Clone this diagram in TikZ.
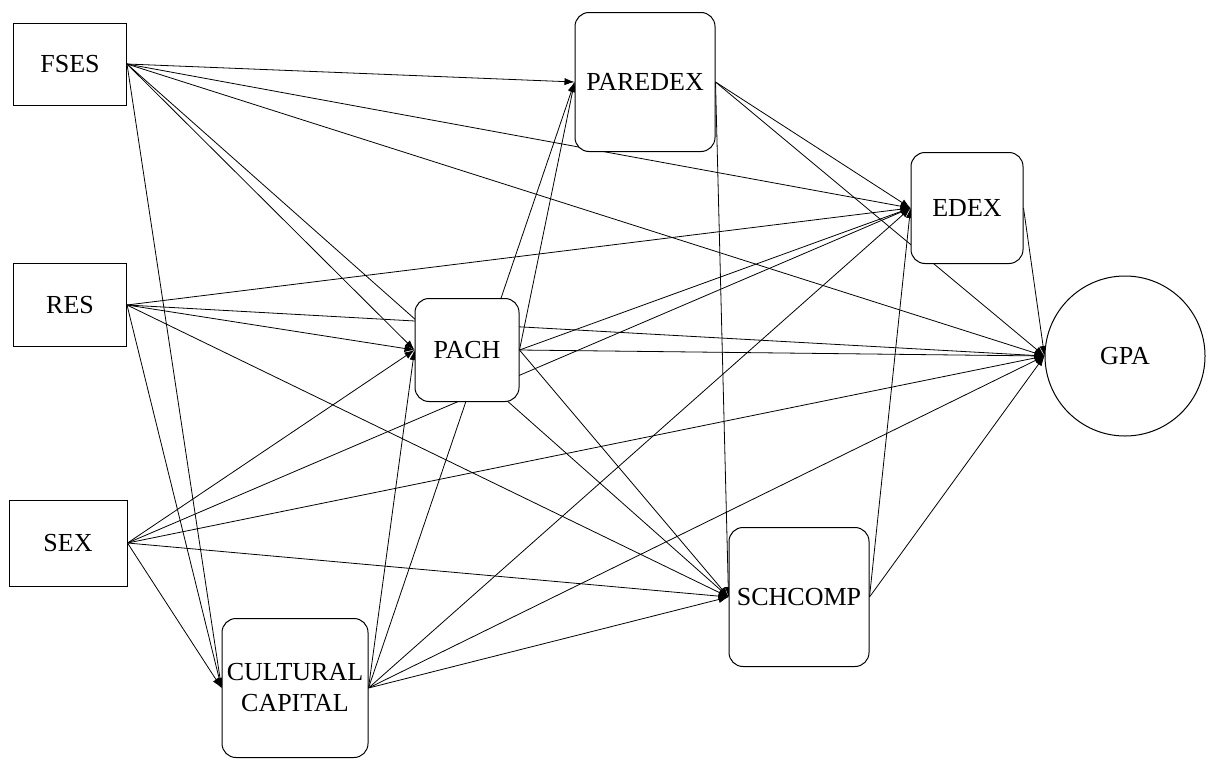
\documentclass[tikz,border=0pt]{standalone}
\usepackage{fontspec}
\setmainfont{Liberation Serif}
\usepackage{tikz}
\usetikzlibrary{arrows.meta,backgrounds}

\tikzset{
    var/.style={draw, fill=white, line width=0.5pt, inner sep=0pt, font=\fontsize{13}{15.5}\selectfont},
    fac/.style={var, rounded corners=7pt, align=center},
}

\begin{document}
\begin{tikzpicture}[x=0.5pt, y=-0.5pt, >={Latex[length=5pt,width=3.6pt]}, line width=0.45pt]
                \useasboundingbox (0,0) rectangle (1208,760);
                % observed variables
                \node[var, minimum width=56.5pt, minimum height=41pt] (fses) at (70,64) {FSES};
                \node[var, minimum width=56.5pt, minimum height=41.5pt] (res) at (70,305) {RES};
                \node[var, minimum width=59pt, minimum height=43pt] (sex) at (68,543) {SEX};
                \node[fac, minimum width=73pt, minimum height=69.5pt] (cult) at (295,688) {CULTURAL\\CAPITAL};
                \node[fac, minimum width=52pt, minimum height=51.5pt] (pach) at (467,350) {PACH};
                \node[fac, minimum width=70pt, minimum height=69.5pt] (paredex) at (645,82) {PAREDEX};
                \node[fac, minimum width=56pt, minimum height=55.5pt] (edex) at (967,208) {EDEX};
                \node[fac, minimum width=70pt, minimum height=69.5pt] (schcomp) at (799,597) {SCHCOMP};
                \node[var, circle, minimum size=80pt] (gpa) at (1125,356) {GPA};

                % paths
                \begin{scope}[on background layer]
                \draw[->] (fses.east) -- (paredex.west);
                \draw[->] (fses.east) -- (edex.west);
                \draw[->] (fses.east) -- (gpa.west);
                \draw[->] (fses.east) -- (pach.west);
                \draw[->] (fses.east) -- (schcomp.west);
                \draw[->] (fses.east) -- (cult.west);
                \draw[->] (res.east) -- (edex.west);
                \draw[->] (res.east) -- (gpa.west);
                \draw[->] (res.east) -- (pach.west);
                \draw[->] (res.east) -- (schcomp.west);
                \draw[->] (res.east) -- (cult.west);
                \draw[->] (sex.east) -- (pach.west);
                \draw[->] (sex.east) -- (edex.west);
                \draw[->] (sex.east) -- (gpa.west);
                \draw[->] (sex.east) -- (schcomp.west);
                \draw[->] (sex.east) -- (cult.west);
                \draw[->] (cult.east) -- (pach.west);
                \draw[->] (cult.east) -- (paredex.west);
                \draw[->] (cult.east) -- (edex.west);
                \draw[->] (cult.east) -- (gpa.west);
                \draw[->] (cult.east) -- (schcomp.west);
                \draw[->] (pach.east) -- (paredex.west);
                \draw[->] (pach.east) -- (edex.west);
                \draw[->] (pach.east) -- (gpa.west);
                \draw[->] (pach.east) -- (schcomp.west);
                \draw[->] (paredex.east) -- (edex.west);
                \draw[->] (paredex.east) -- (gpa.west);
                \draw[->] (paredex.east) -- (schcomp.west);
                \draw[->] (edex.east) -- (gpa.west);
                \draw[->] (schcomp.east) -- (gpa.west);
                \draw[->] (schcomp.east) -- (edex.west);
                \end{scope}
            \end{tikzpicture}
\end{document}
